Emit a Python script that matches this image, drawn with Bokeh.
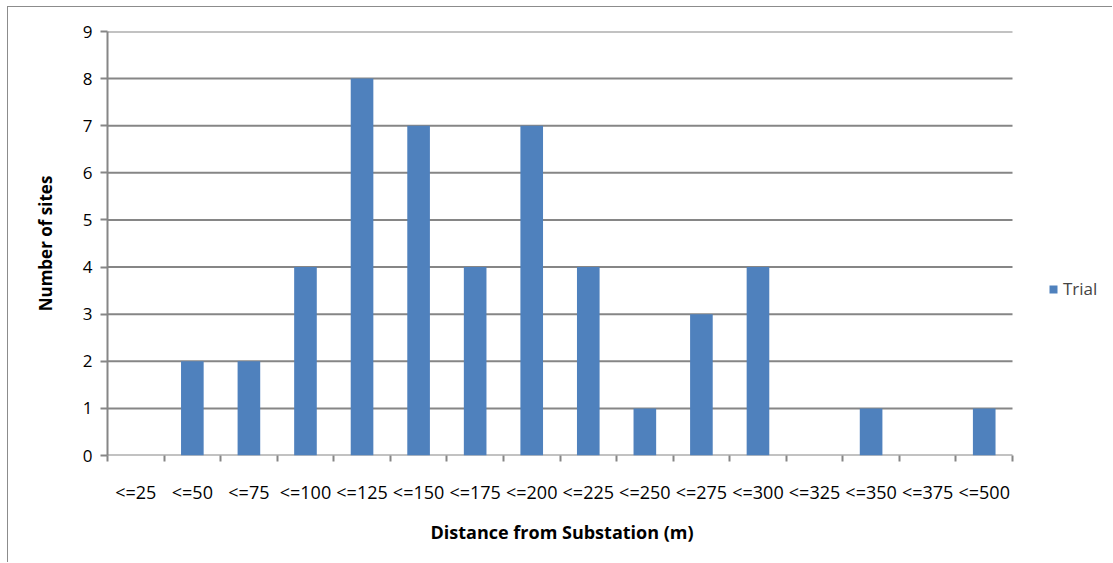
from bokeh.plotting import figure
from bokeh.models import ColumnDataSource, FixedTicker, Range1d, Legend, LegendItem, Title
from bokeh.embed import file_html
from bokeh.resources import INLINE

categories = ["<=25", "<=50", "<=75", "<=100", "<=125", "<=150", "<=175", "<=200",
              "<=225", "<=250", "<=275", "<=300", "<=325", "<=350", "<=375", "<=500"]
trial = [0, 2, 2, 4, 8, 7, 4, 7, 4, 1, 3, 4, 0, 1, 0, 1]
y_ticks = [0, 1, 2, 3, 4, 5, 6, 7, 8, 9]

FONT = "Open Sans"
GRID = "#868686"
BAR = "#4F81BD"

n = len(categories)
centers = [i + 0.5 for i in range(n)]
source = ColumnDataSource(dict(x=centers, top=trial, cat=categories))

# plotting area of the bars is 905 px wide; the frame extends to hold the legend
FRAME_W = 1105 - 99 - 2
x_end = n * FRAME_W / 905.0

p = figure(width=1105, height=556, output_backend="svg", toolbar_location=None,
           x_range=Range1d(0, x_end), y_range=Range1d(0, 9))
p.min_border_left = 99
p.min_border_right = 2
p.min_border_top = 24
p.min_border_bottom = 108
p.outline_line_color = None
p.background_fill_color = "white"
p.border_fill_color = "white"
p.styles = {"border-left": "1px solid #8c8c8c", "border-top": "1px solid #8c8c8c",
            "margin-left": "7px", "margin-top": "6px"}

# horizontal gridlines (and the category axis line at 0), only over the categories
p.segment(x0=[0] * len(y_ticks), x1=[n] * len(y_ticks), y0=y_ticks, y1=y_ticks,
          line_color=GRID, line_width=2, level="underlay")

r = p.vbar(x="x", top="top", width=0.4, source=source, fill_color=BAR, line_color=None)

# x axis: boundary ticks as minor ticks, labels at centers
p.xaxis.ticker = FixedTicker(ticks=centers, minor_ticks=list(range(n + 1)))
p.xaxis.major_label_overrides = {c: lab for c, lab in zip(centers, categories)}
p.xaxis.major_tick_line_color = None
p.xaxis.minor_tick_line_color = GRID
p.xaxis.minor_tick_out = 6
p.xaxis.minor_tick_in = 0
p.xaxis.minor_tick_line_width = 2
p.xaxis.axis_line_color = None
p.xaxis.major_label_standoff = 18
p.xaxis.major_label_text_font = FONT
p.xaxis.major_label_text_font_size = "18px"
p.xaxis.major_label_text_color = "black"
p.xgrid.grid_line_color = None

xtitle = Title(text="Distance from Substation (m)", align="left", offset=323,
               text_font=FONT, text_font_style="bold", text_font_size="18px",
               text_color="black", standoff=22)
p.add_layout(xtitle, "below")

p.yaxis.ticker = FixedTicker(ticks=y_ticks)
p.yaxis.minor_tick_line_color = None
p.yaxis.major_tick_line_color = GRID
p.yaxis.major_tick_line_width = 2
p.yaxis.major_tick_out = 7
p.yaxis.major_tick_in = 0
p.yaxis.axis_line_color = GRID
p.yaxis.axis_line_width = 2
p.yaxis.major_label_standoff = 8
p.yaxis.major_label_text_font = FONT
p.yaxis.major_label_text_font_size = "17px"
p.yaxis.major_label_text_color = "black"
p.yaxis.axis_label = "Number of sites"
p.yaxis.axis_label_text_font = FONT
p.yaxis.axis_label_text_font_style = "bold"
p.yaxis.axis_label_text_font_size = "17px"
p.yaxis.axis_label_standoff = 23
p.yaxis.axis_label_text_color = "black"
p.ygrid.grid_line_color = None

legend = Legend(items=[LegendItem(label="Trial", renderers=[r])],
                label_text_font=FONT, label_text_font_size="17px",
                glyph_width=10, glyph_height=10, border_line_color=None,
                background_fill_alpha=0, margin=0, padding=0, label_standoff=5,
                location=(941, 155))
p.add_layout(legend, "center")

open("out.html", "w").write(file_html(p, INLINE))
